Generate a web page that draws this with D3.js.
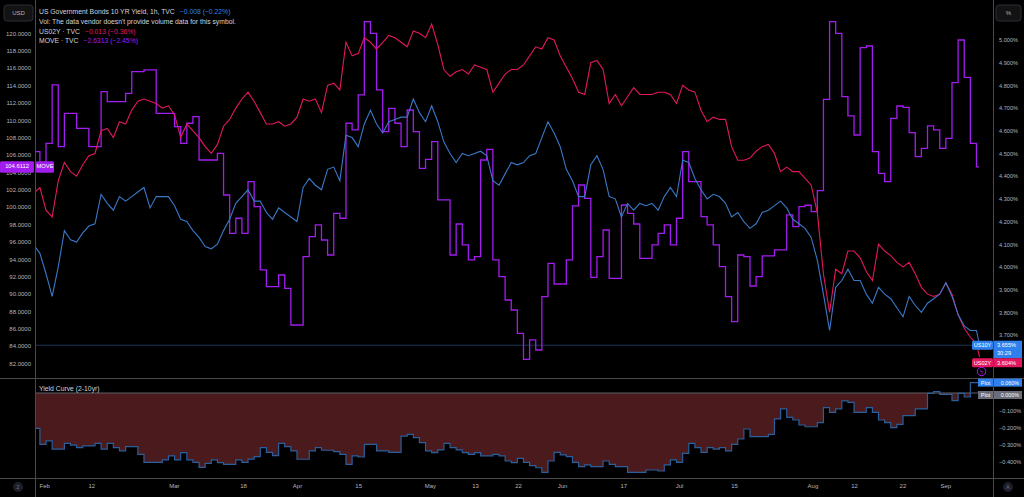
<!DOCTYPE html>
<html><head><meta charset="utf-8">
<script src="https://cdn.jsdelivr.net/npm/d3@7"></script>
<style>
html,body{margin:0;padding:0;background:#000;}
svg{display:block;font-family:"Liberation Sans",Arial,sans-serif;}
</style></head><body>
<svg id="c" width="1024" height="497"></svg>
<script>
// ---------------- DATA (bar index = trading-day position on the time axis) ----------------
const bars = [-1.8].concat(d3.range(-1, 153));           // 155 bars
const yieldBars = bars.concat([152.5]);                    // yields have one extra intraday point

const us10y = [4.09,4.06,
 3.97,3.87,4.00,4.16,4.12,4.11,4.15,4.18,4.19,
 4.32,4.28,4.25,4.31,4.29,4.31,4.33,4.35,4.26,4.31,4.31,
 4.31,4.27,4.21,4.20,4.16,4.13,4.09,4.08,4.10,4.16,
 4.21,4.28,4.31,4.34,4.29,4.29,4.24,4.21,4.26,4.24,
 4.22,4.20,4.35,4.39,4.36,4.34,4.43,4.44,4.38,4.58,
 4.57,4.53,4.63,4.69,4.63,4.59,4.64,4.65,4.66,4.66,
 4.74,4.68,4.64,4.71,4.64,4.55,4.50,4.46,4.50,4.49,
 4.50,4.51,4.49,4.38,4.36,4.41,4.46,4.45,4.46,4.49,
 4.50,4.57,4.64,4.59,4.53,4.43,4.38,4.31,4.31,4.45,
 4.49,4.43,4.31,4.30,4.22,4.28,4.25,4.28,4.27,4.28,
 4.25,4.31,4.35,4.31,4.47,4.46,4.39,4.34,4.30,4.32,
 4.31,4.28,4.22,4.24,4.20,4.17,4.19,4.24,4.25,4.27,
 4.29,4.26,4.21,4.19,4.17,4.13,4.03,3.88,3.72,3.91,
 3.94,3.99,3.94,3.94,3.88,3.84,3.91,3.88,3.86,3.82,
 3.78,3.87,3.83,3.80,3.84,3.86,3.88,3.93,3.87,3.79,
 3.74,3.72,3.72,3.655];

const us02y = [4.33,4.35,
 4.25,4.22,4.38,4.46,4.42,4.40,4.45,4.49,4.50,
 4.60,4.61,4.57,4.64,4.63,4.69,4.73,4.74,4.73,4.72,4.70,
 4.71,4.67,4.57,4.63,4.60,4.57,4.53,4.50,4.54,4.62,
 4.65,4.70,4.74,4.77,4.73,4.68,4.63,4.63,4.64,4.62,
 4.63,4.66,4.74,4.73,4.74,4.68,4.80,4.81,4.78,4.99,
 4.93,4.94,5.01,4.99,4.96,4.99,5.02,5.01,4.99,4.97,
 5.04,5.03,5.01,5.07,4.98,4.87,4.84,4.86,4.87,4.85,
 4.89,4.88,4.87,4.77,4.81,4.85,4.87,4.87,4.89,4.93,
 4.97,4.96,5.01,5.00,4.93,4.88,4.83,4.77,4.76,4.90,
 4.91,4.87,4.72,4.76,4.71,4.75,4.79,4.76,4.76,4.76,
 4.77,4.77,4.76,4.72,4.80,4.78,4.77,4.69,4.64,4.66,
 4.65,4.65,4.53,4.47,4.47,4.48,4.51,4.53,4.54,4.50,
 4.42,4.44,4.42,4.42,4.39,4.36,4.24,3.97,3.80,3.99,
 3.97,4.07,4.07,4.04,3.98,3.94,4.10,4.07,4.05,4.02,
 4.00,4.02,3.97,3.91,3.88,3.87,3.88,3.93,3.88,3.79,
 3.73,3.69,3.66,3.604];

const moveIdx = [106.37,105.03,
 107.33,114.05,106.95,110.79,110.79,109.06,109.06,106.95,106.95,113.28,
 112.13,112.13,112.13,113.09,115.59,115.59,115.78,115.78,110.79,110.79,
 110.79,109.25,107.33,109.64,110.40,105.41,105.41,105.41,106.18,101.38,
 96.97,98.70,96.97,102.92,100.04,92.75,90.83,90.83,92.17,90.63,
 86.41,86.41,94.28,96.58,97.93,96.20,94.47,99.27,98.70,109.64,
 108.87,112.90,121.34,120.00,113.48,108.68,111.36,109.64,106.95,111.17,
 108.68,104.45,105.49,107.53,100.81,100.81,94.47,98.04,95.63,93.90,
 94.28,105.41,106.64,93.90,91.98,89.29,88.14,85.45,82.46,84.70,
 83.53,89.68,93.51,91.13,91.13,93.90,100.12,102.53,101.00,91.90,
 94.28,97.35,91.79,91.79,100.23,99.27,98.04,94.09,94.09,95.63,
 96.97,97.93,95.63,98.70,106.37,102.92,102.92,98.89,97.93,95.63,
 93.13,89.68,86.80,94.47,94.28,90.90,91.98,94.36,94.36,95.05,
 95.05,99.08,97.74,100.04,100.20,99.46,101.88,112.40,121.34,120.00,
 112.71,110.48,108.29,118.35,118.54,106.37,103.88,102.92,110.21,111.63,
 111.48,108.56,105.80,106.76,109.33,108.87,106.76,107.91,114.32,119.23,
 114.93,107.33,104.6112];

const spread = [-0.204,-0.297,
 -0.277,-0.324,-0.324,-0.291,-0.301,-0.316,-0.306,-0.306,-0.291,-0.324,
 -0.291,-0.316,-0.335,-0.310,-0.310,-0.355,-0.401,-0.401,-0.401,-0.387,
 -0.364,-0.387,-0.345,-0.387,-0.401,-0.430,-0.407,-0.387,-0.403,-0.412,
 -0.412,-0.387,-0.401,-0.382,-0.368,-0.316,-0.343,-0.362,-0.291,-0.310,
 -0.335,-0.383,-0.383,-0.335,-0.316,-0.331,-0.331,-0.339,-0.355,-0.412,
 -0.364,-0.370,-0.297,-0.297,-0.335,-0.335,-0.343,-0.343,-0.249,-0.239,
 -0.258,-0.287,-0.335,-0.345,-0.329,-0.291,-0.316,-0.329,-0.345,-0.355,
 -0.345,-0.364,-0.364,-0.355,-0.364,-0.393,-0.403,-0.378,-0.401,-0.420,
 -0.432,-0.459,-0.393,-0.343,-0.358,-0.368,-0.401,-0.426,-0.416,-0.426,
 -0.426,-0.393,-0.412,-0.426,-0.426,-0.459,-0.459,-0.459,-0.445,-0.445,
 -0.451,-0.416,-0.387,-0.401,-0.349,-0.291,-0.316,-0.343,-0.316,-0.324,
 -0.316,-0.335,-0.297,-0.266,-0.208,-0.252,-0.252,-0.252,-0.239,-0.150,
 -0.092,-0.141,-0.156,-0.185,-0.195,-0.195,-0.171,-0.085,-0.112,-0.092,
 -0.046,-0.054,-0.112,-0.112,-0.085,-0.112,-0.156,-0.171,-0.200,-0.181,
 -0.131,-0.131,-0.092,-0.092,-0.002,0.008,-0.008,-0.008,-0.044,-0.002,
 -0.023,0.060,0.060];

// axis tick values / labels
const moveTicks = d3.range(82, 121, 2);
const pctTicks = [3.7,3.8,3.9,4.0,4.1,4.2,4.3,4.4,4.5,4.6,4.7,4.8,4.9,5.0];
const spreadTicks = [-0.1,-0.2,-0.3,-0.4];
const dateLabels = ["Feb","12","Mar","18","Apr","15","May","13","22","Jun","17","Jul","15","Aug","12","22","Sep"];
const dateBars   = [-0.3,7.4,20.9,32.2,41.0,51.0,62.7,70.1,77.1,84.3,94.3,103.4,112.4,125.2,132.0,139.9,146.9];

// header texts
const legend = [
  {t:"US Government Bonds 10 YR Yield, 1h, TVC", v:"\u22120.008 (\u22120.22%)", c:"blue"},
  {t:"Vol: The data vendor doesn't provide volume data for this symbol.", v:"", c:"txt"},
  {t:"US02Y \u00b7 TVC", v:"\u22120.013 (\u22120.36%)", c:"pink"},
  {t:"MOVE \u00b7 TVC", v:"\u22122.6313 (\u22122.45%)", c:"purple"}
];

// ---------------- STYLE ----------------
const C = {
  bg:"#000000", sep:"#4a4a4a", txt:"#d1d4dc", axis:"#b2b5be",
  blue:"#3a78c8", blueLbl:"#2f80ed", pink:"#e3175f", purple:"#a31cf0",
  sprLine:"#285f9c", sprFill:"#4a1a1d", zero:"#5d6068"
};

const svg = d3.select("#c");
const W = 1024, H = 497;
const plotL = 35, plotR = 993, mainBot = 378, lowBot = 478;

svg.append("rect").attr("width",W).attr("height",H).attr("fill",C.bg);

const x = d3.scaleLinear().domain([-1.8, 154.7]).range([plotL, plotR]);
const yL = d3.scaleLinear().domain([82, 120]).range([363.3, 33.3]);
const yR = d3.scaleLinear().domain([3.7, 5.0]).range([335, 40]);
const yS = d3.scaleLinear().domain([-0.4, 0]).range([462.2, 393]);

const defs = svg.append("defs");
defs.append("clipPath").attr("id","clipMain").append("rect")
  .attr("x",plotL).attr("y",0).attr("width",plotR-plotL).attr("height",mainBot);
defs.append("clipPath").attr("id","clipLow").append("rect")
  .attr("x",plotL).attr("y",mainBot+1).attr("width",plotR-plotL).attr("height",lowBot-mainBot-1);
defs.append("clipPath").attr("id","clipNeg").append("rect")
  .attr("x",plotL).attr("y",yS(0)).attr("width",plotR-plotL).attr("height",lowBot-yS(0));

// ---------------- MAIN PANE ----------------
const gMain = svg.append("g").attr("clip-path","url(#clipMain)");

// last price line of US10Y
gMain.append("line").attr("x1",plotL).attr("x2",plotR)
  .attr("y1",yR(us10y[us10y.length-1])).attr("y2",yR(us10y[us10y.length-1]))
  .attr("stroke","#1d3557").attr("stroke-width",1);

const moveData = bars.map((b,i)=>({b, v:moveIdx[i]}));
moveData.push({b:152.4, v:moveIdx[moveIdx.length-1]});
gMain.append("path").datum(moveData)
  .attr("fill","none").attr("stroke",C.purple).attr("stroke-width",1.3)
  .attr("d", d3.line().curve(d3.curveStepAfter).x(d=>x(d.b)).y(d=>yL(d.v)));

const lineY = d3.line().x(d=>x(d.b)).y(d=>yR(d.v));
gMain.append("path").datum(yieldBars.map((b,i)=>({b, v:us02y[i]})))
  .attr("fill","none").attr("stroke",C.pink).attr("stroke-width",1.1).attr("d", lineY);
gMain.append("path").datum(yieldBars.map((b,i)=>({b, v:us10y[i]})))
  .attr("fill","none").attr("stroke",C.blue).attr("stroke-width",1.1).attr("d", lineY);

// ---------------- LOWER PANE ----------------
const gLow = svg.append("g").attr("clip-path","url(#clipLow)");
const sprData = bars.map((b,i)=>({b, v:spread[i]}));
sprData.push({b:152.4, v:spread[spread.length-1]});
gLow.append("g").attr("clip-path","url(#clipNeg)").append("path").datum(sprData)
  .attr("fill",C.sprFill)
  .attr("d", d3.area().curve(d3.curveStepAfter).x(d=>x(d.b)).y0(yS(0)).y1(d=>yS(d.v)));
gLow.append("line").attr("x1",plotL).attr("x2",plotR).attr("y1",yS(0)).attr("y2",yS(0))
  .attr("stroke",C.zero).attr("stroke-width",1);
gLow.append("path").datum(sprData)
  .attr("fill","none").attr("stroke",C.sprLine).attr("stroke-width",1.2)
  .attr("d", d3.line().curve(d3.curveStepAfter).x(d=>x(d.b)).y(d=>yS(d.v)));

// ---------------- SEPARATORS ----------------
const sep = svg.append("g").attr("stroke",C.sep).attr("stroke-width",1);
sep.append("line").attr("x1",plotL+0.5).attr("x2",plotL+0.5).attr("y1",0).attr("y2",H);
sep.append("line").attr("x1",plotR+0.5).attr("x2",plotR+0.5).attr("y1",0).attr("y2",H);
sep.append("line").attr("x1",0).attr("x2",W).attr("y1",mainBot+0.5).attr("y2",mainBot+0.5);
sep.append("line").attr("x1",0).attr("x2",W).attr("y1",lowBot+0.5).attr("y2",lowBot+0.5);

// ---------------- AXES ----------------
function styleAxis(g, size){
  g.select(".domain").remove();
  g.selectAll(".tick line").remove();
  g.selectAll("text").attr("fill",C.axis).attr("font-size",size)
    .attr("font-family","'Liberation Sans',Arial,sans-serif");
}
svg.append("g").attr("transform","translate(31,0)")
  .call(d3.axisLeft(yL).tickValues(moveTicks).tickSize(0).tickPadding(0).tickFormat(d3.format(".4f")))
  .call(g=>styleAxis(g,6));
const pctFmt = d=> (d<0?"\u2212":"") + d3.format(".3f")(Math.abs(d)) + "%";
svg.append("g").attr("transform","translate(996,0)")
  .call(d3.axisRight(yR).tickValues(pctTicks).tickSize(0).tickPadding(3).tickFormat(pctFmt))
  .call(g=>styleAxis(g,5.6));
svg.append("g").attr("transform","translate(996,0)")
  .call(d3.axisRight(yS).tickValues(spreadTicks).tickSize(0).tickPadding(3).tickFormat(pctFmt))
  .call(g=>styleAxis(g,5.6));
svg.append("g").attr("transform",`translate(0,${lowBot})`)
  .call(d3.axisBottom(x).tickValues(dateBars).tickSize(0).tickPadding(6)
        .tickFormat((d,i)=>dateLabels[i]))
  .call(g=>styleAxis(g,6));

// ---------------- LEGEND ----------------
const lg = svg.append("g").attr("font-size",6.8);
legend.forEach((l,i)=>{
  const t = lg.append("text").attr("x",39).attr("y",14 + i*9.8).attr("fill",C.txt);
  t.append("tspan").text(l.t);
  if(l.v) t.append("tspan").attr("fill", l.c==="blue"?C.blueLbl:C[l.c]).attr("dx",5).text(l.v);
});
svg.append("text").attr("x",39).attr("y",390.5).attr("fill",C.txt).attr("font-size",6.8)
  .text("Yield Curve (2-10yr)");

// unit boxes
function box(xp,yp,w,h,label){
  svg.append("rect").attr("x",xp).attr("y",yp).attr("width",w).attr("height",h).attr("rx",3)
    .attr("fill","#131313").attr("stroke","#2a2e39");
  svg.append("text").attr("x",xp+w/2).attr("y",yp+h/2+2).attr("text-anchor","middle")
    .attr("fill",C.axis).attr("font-size",6).text(label);
}
box(4,5,29,16,"USD");
box(996,5,25,16,"%");

// ---------------- PRICE LABELS ----------------
function tag(xp,yc,w,h,fill,lines,col,anchor){
  svg.append("rect").attr("x",xp).attr("y",yc-h/2).attr("width",w).attr("height",h)
    .attr("rx",1.5).attr("fill",fill);
  lines.forEach((s,i)=>{
    svg.append("text").attr("x", anchor==="middle"? xp+w/2 : xp+w-2)
      .attr("y", yc - h/2 + 6.8 + i*8).attr("text-anchor",anchor||"end")
      .attr("fill",col||"#fff").attr("font-size",5.8).text(s);
  });
}
const lastMove = moveIdx[moveIdx.length-1];
tag(0, yL(lastMove), 34, 11.5, C.purple, [d3.format(".4f")(lastMove)], "#fff", "middle");
tag(36, yL(lastMove), 18, 11.5, C.purple, ["MOVE"], "#fff", "middle");

const y10 = yR(us10y[us10y.length-1]);
svg.append("rect").attr("x",972).attr("y",y10-4.5).attr("width",21).attr("height",9).attr("rx",1.5).attr("fill",C.blueLbl);
svg.append("text").attr("x",982.5).attr("y",y10+2).attr("text-anchor","middle").attr("fill","#fff").attr("font-size",5.6).text("US10Y");
svg.append("rect").attr("x",994).attr("y",y10-4.5).attr("width",28).attr("height",17.5).attr("fill",C.blueLbl);
svg.append("text").attr("x",997).attr("y",y10+2).attr("fill","#fff").attr("font-size",5.6).text(d3.format(".3f")(us10y[us10y.length-1])+"%");
svg.append("text").attr("x",997).attr("y",y10+10).attr("fill","#fff").attr("font-size",5.6).text("30:29");

const y02 = y10 + 17.5;
svg.append("rect").attr("x",972).attr("y",y02-4.5).attr("width",21).attr("height",9).attr("rx",1.5).attr("fill",C.pink);
svg.append("text").attr("x",982.5).attr("y",y02+2).attr("text-anchor","middle").attr("fill","#fff").attr("font-size",5.6).text("US02Y");
svg.append("rect").attr("x",994).attr("y",y02-4.5).attr("width",28).attr("height",9).attr("fill",C.pink);
svg.append("text").attr("x",997).attr("y",y02+2).attr("fill","#fff").attr("font-size",5.6).text(d3.format(".3f")(us02y[us02y.length-1])+"%");

// small alert circle
svg.append("circle").attr("cx",981.5).attr("cy",371.5).attr("r",4.2).attr("fill","none").attr("stroke",C.purple).attr("stroke-width",1);
svg.append("text").attr("x",981.5).attr("y",373.5).attr("text-anchor","middle").attr("fill",C.purple).attr("font-size",5.5).text("\u03df");

// lower pane labels
const lastSpr = spread[spread.length-1];
const ySp = yS(lastSpr);
svg.append("rect").attr("x",978).attr("y",ySp-4).attr("width",15).attr("height",8).attr("fill",C.blueLbl);
svg.append("text").attr("x",985.5).attr("y",ySp+2).attr("text-anchor","middle").attr("fill","#fff").attr("font-size",5.4).text("Plot");
svg.append("rect").attr("x",994).attr("y",ySp-4).attr("width",28).attr("height",8).attr("fill",C.blueLbl);
svg.append("text").attr("x",1019).attr("y",ySp+2).attr("text-anchor","end").attr("fill","#fff").attr("font-size",5.4).text(d3.format(".3f")(lastSpr)+"%");
const yZ = yS(0) + 2;
svg.append("rect").attr("x",978).attr("y",yZ-4).attr("width",15).attr("height",8).attr("fill","#6a6d78");
svg.append("text").attr("x",985.5).attr("y",yZ+2).attr("text-anchor","middle").attr("fill","#fff").attr("font-size",5.4).text("Plot");
svg.append("rect").attr("x",994).attr("y",yZ-4).attr("width",28).attr("height",8).attr("fill","#6a6d78");
svg.append("text").attr("x",1019).attr("y",yZ+2).attr("text-anchor","end").attr("fill","#fff").attr("font-size",5.4).text("0.000%");

// corner buttons
svg.append("circle").attr("cx",18).attr("cy",487).attr("r",5).attr("fill","#1c1f29");
svg.append("text").attr("x",18).attr("y",489).attr("text-anchor","middle").attr("fill","#787b86").attr("font-size",5).text("2");
svg.append("circle").attr("cx",1008).attr("cy",487).attr("r",5).attr("fill","#1c1f29");
svg.append("text").attr("x",1008).attr("y",489).attr("text-anchor","middle").attr("fill","#787b86").attr("font-size",5).text("A");
</script>
</body></html>
